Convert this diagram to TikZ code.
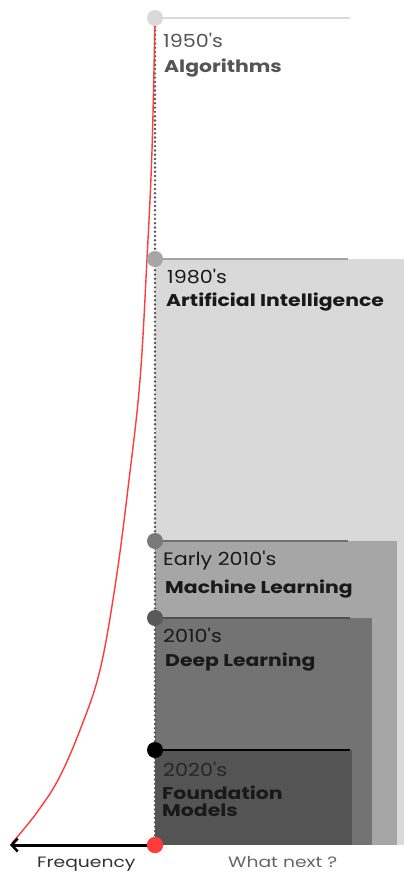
\documentclass[tikz,border=0pt]{standalone}
\usepackage{fontspec}
\setmainfont{Poppins}
\newfontfamily\yrfont[FakeStretch=1.15]{Poppins}
\newfontfamily\ttlfont[FakeStretch=1.2]{Poppins}
\newfontfamily\axfont[FakeStretch=1.25]{Poppins}
\usetikzlibrary{arrows.meta}
\definecolor{cA}{HTML}{D9D9D9}
\definecolor{cB}{HTML}{D9D9D9}
\definecolor{cBl}{HTML}{A3A3A3}
\definecolor{cBd}{HTML}{A6A6A6}
\definecolor{cC}{HTML}{A6A6A6}
\definecolor{cCl}{HTML}{707070}
\definecolor{cCd}{HTML}{7A7A7A}
\definecolor{cD}{HTML}{737373}
\definecolor{cDl}{HTML}{4F4F4F}
\definecolor{cDd}{HTML}{595959}
\definecolor{cE}{HTML}{545454}
\definecolor{dotc}{HTML}{555555}
\definecolor{redc}{HTML}{FF3B3B}
\tikzset{
  yr/.style={font=\yrfont\fontsize{18}{18}\selectfont, anchor=base west, inner sep=0pt},
  ttl/.style={font=\ttlfont\bfseries\fontsize{17}{17}\selectfont, anchor=base west, inner sep=0pt},
  axl/.style={font=\axfont\fontsize{15}{15}\selectfont, anchor=base west, inner sep=0pt},
  topline/.style={line width=2.5pt},
  dotdot/.style={circle, minimum size=16pt, inner sep=0pt},
}
\begin{document}
\begin{tikzpicture}[x=1pt,y=-1pt]
\useasboundingbox (0,0) rectangle (404,873);
% rectangles
\fill[cB] (155,259) rectangle (404,845);
\fill[cC] (155,541) rectangle (397,845);
\fill[cD] (155,618) rectangle (372,845);
\fill[cE] (155,750) rectangle (352,845);
% top lines
\draw[topline, cA] (155,18) -- (350,18);
\draw[topline, cBl] (155,259) -- (348,259);
\draw[topline, cCl] (155,541) -- (348,541);
\draw[topline, cDl] (155,618) -- (350,618);
\draw[topline, black] (155,750) -- (350,750);
% dotted axis
\coordinate (top) at (155,18);
\coordinate (bot) at (155,845);
\foreach \i in {0,...,192} \fill[dotc] (155,22+\i*4.28) circle (1.35pt);
% red curve
\draw[redc, line width=1.4pt] plot[smooth, tension=0.6] coordinates {(155,18) (152,150) (147,259) (140,380) (129,480) (116,580) (100,670) (80,730) (58,780) (35,815) (12,843)};
% circles
\node[dotdot, fill=cA] (n1) at (155,18) {};
\node[dotdot, fill=cBd] (n2) at (155,259) {};
\node[dotdot, fill=cCd] (n3) at (155,541) {};
\node[dotdot, fill=cDd] (n4) at (155,618) {};
\node[dotdot, fill=black] (n5) at (155,750) {};
% arrow
\coordinate (arrend) at (10,845);
\node[dotdot, fill=redc] (n0) at (155,845) {};
\draw[line width=3pt, -{Straight Barb[length=6pt,width=13pt,line width=2.5pt]}] (n0.center) -- (arrend);
\node[dotdot, fill=redc] at (155,845) {};
% texts
\node[yr, text=dotc] (t1) at (163,47) {1950's};
\node[ttl, text=dotc] (t1b) at (164,72) {Algorithms};
\node[yr, text=black!90] (t2) at (167,283) {1980's};
\node[ttl, text=black!90] (t2b) at (166,306.5) {Artificial Intelligence};
\node[yr, text=black!90] (t3) at (163,565.5) {Early 2010's};
\node[ttl, text=black!90] (t3b) at (165,593) {Machine Learning};
\node[yr, text=black!90] (t4) at (163,642.5) {2010's};
\node[ttl, text=black!90] (t4b) at (165,666.5) {Deep Learning};
\node[yr, text=black!85] (t5) at (163,776.5) {2020's};
\node[ttl, text=black!90] (t5b) at (162,799) {Foundation};
\node[ttl, text=black!90] (t5c) at (162,816) {Models};
\node[axl, text=black!80] (fq) at (37,867) {Frequency};
\node[axl, text=black!60] (wn) at (228,867) {What next ?};
\end{tikzpicture}
\end{document}
